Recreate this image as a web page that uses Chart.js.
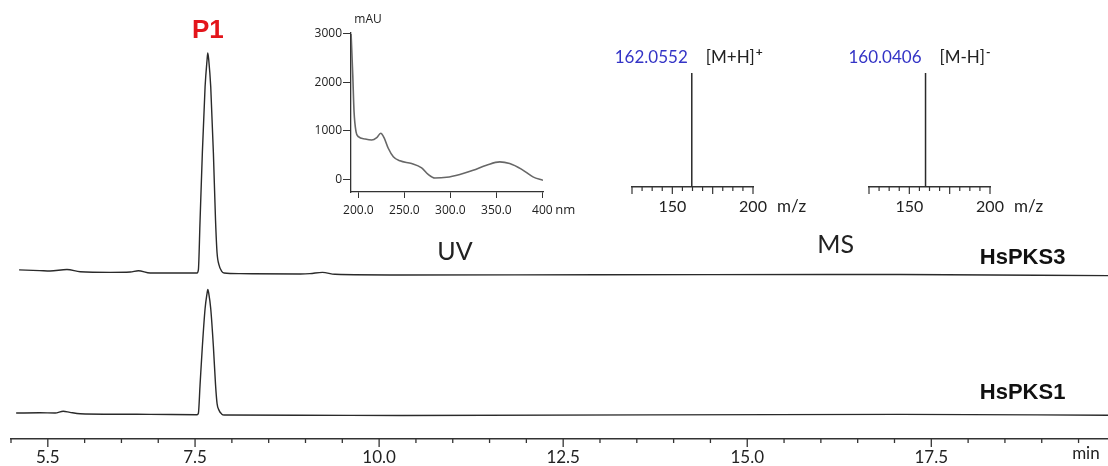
<!DOCTYPE html>
<html>
<head>
<meta charset="utf-8">
<script src="https://cdn.jsdelivr.net/npm/chart.js@4.4.1/dist/chart.umd.min.js"></script>
<style>
    html, body { margin: 0; padding: 0; background: #fff; }
    #wrap { position: relative; width: 1108px; height: 466px; overflow: hidden; }
    #wrap canvas { position: absolute; }
</style>
</head>
<body>
<div id="wrap">
    <canvas id="main" width="1108" height="466" style="left:0;top:0"></canvas>
    <canvas id="uv" width="300" height="225" style="left:290px;top:5px"></canvas>
    <canvas id="msPos" width="220" height="190" style="left:600px;top:40px"></canvas>
    <canvas id="msNeg" width="220" height="190" style="left:837px;top:40px"></canvas>
</div>
<script>
// chromatograms: retention time (min) vs absorbance (HsPKS3 peak = 100)
const pks3Time = [5.11, 5.39, 5.53, 5.76, 5.94, 6.35, 6.62, 6.73, 6.89, 7.527, 7.545, 7.568, 7.599, 7.636, 7.663, 7.673, 7.686, 7.713, 7.749, 7.778, 7.799, 7.826, 7.860, 7.894, 8.11, 8.93, 9.06, 9.23, 9.40, 10.29, 13.0, 17.08, 19.9];
const pks3Abs = [1.4, 1.1, 0.9, 1.6, 0.6, 0.3, 0.45, 1.05, 0, 0, 1.4, 24, 54.5, 84.5, 96.8, 100, 96.8, 84.5, 54.5, 24, 9.1, 3.6, 0.9, 0, -0.3, -0.45, -0.3, 0.3, -0.6, -0.9, -0.8, -0.7, -1.2];
const pks1Time = [5.07, 5.39, 5.60, 5.71, 5.80, 5.94, 6.89, 7.527, 7.545, 7.568, 7.599, 7.636, 7.663, 7.673, 7.686, 7.713, 7.749, 7.778, 7.799, 7.826, 7.860, 7.894, 8.93, 10.29, 17.08, 19.9];
const pks1Abs = [0.9, 1.0, 0.9, 1.7, 1.2, 0.6, 0.3, 0.1, 0.8, 13.8, 31.1, 48.3, 55.3, 57.1, 55.3, 48.3, 31.1, 13.8, 5.2, 2.1, 0.5, 0, -0.1, -0.2, 0.3, -0.1];
const traceNames = ['HsPKS3', 'HsPKS1'];
const timeTicks = [5.0, 5.5, 6.0, 6.5, 7.0, 7.5, 8.0, 8.5, 9.0, 9.5, 10.0, 10.5, 11.0, 11.5, 12.0, 12.5, 13.0, 13.5, 14.0, 14.5, 15.0, 15.5, 16.0, 16.5, 17.0, 17.5, 18.0, 18.5, 19.0, 19.5];
const timeLabels = [5.5, 7.5, 10.0, 12.5, 15.0, 17.5];

// UV spectrum of P1
const uvNm = [192.1, 193.9, 195.3, 197.5, 200, 207.3, 214.5, 220, 224.3, 227.9, 232.5, 238, 245.2, 257.9, 268.8, 275.9, 283.2, 295.9, 310.3, 324.7, 339.3, 353.7, 364.5, 377.2, 389.8, 400.7];
const uvMAU = [3000, 2160, 1400, 980, 880, 830, 810, 860, 950, 860, 640, 465, 380, 325, 235, 100, 25, 40, 100, 185, 290, 360, 325, 210, 50, -20];
const uvTicksX = [200, 250, 300, 350, 400];
const uvTicksY = [0, 1000, 2000, 3000];

// MS spectra
const msPosMz = [162.0552];
const msPosInt = [100];
const msNegMz = [160.0406];
const msNegInt = [100];
const msTicks = [125, 131.25, 137.5, 143.75, 150, 156.25, 162.5, 168.75, 175, 181.25, 187.5, 193.75, 200];
const msLabels = [150, 200];

const axisColor = '#333';
const textColor = '#222';
const lineColor = '#2a2a2a';
const numFont = 'Lato';

function pts(xs, ys) { return xs.map((x, i) => ({ x: x, y: ys[i] })); }

function noPad(s) { s.paddingLeft = 0; s.paddingRight = 0; s.paddingTop = 0; s.paddingBottom = 0; }

function text(ctx, str, x, y, font, color, align) {
    ctx.save();
    ctx.font = font;
    ctx.fillStyle = color;
    ctx.textAlign = align || 'center';
    ctx.textBaseline = 'middle';
    ctx.fillText(str, x, y);
    ctx.restore();
}

function tickMark(ctx, x, y, len) {
    ctx.beginPath();
    ctx.moveTo(x, y);
    ctx.lineTo(x, y + len);
    ctx.stroke();
}

const chromPlugin = {
    id: 'chromNotes',
    afterDraw(chart) {
        const ctx = chart.ctx;
        const xs = chart.scales.x, y3 = chart.scales.y3, y1 = chart.scales.y1;
        const base = xs.top;
        ctx.save();
        ctx.strokeStyle = axisColor;
        ctx.lineWidth = 1.3;
        timeTicks.forEach(v => tickMark(ctx, xs.getPixelForValue(v), base, timeLabels.includes(v) ? 8 : 4));
        ctx.restore();
        text(ctx, 'min', xs.getPixelForValue(19.6), base + 15, '17px ' + numFont, textColor);

        // peak label above the HsPKS3 maximum
        const iMax = pks3Abs.indexOf(Math.max(...pks3Abs));
        text(ctx, 'P1', xs.getPixelForValue(pks3Time[iMax]), y3.getPixelForValue(pks3Abs[iMax]) - 22,
            'bold 26px "Liberation Sans"', '#e3151b');

        text(ctx, traceNames[0], xs.getPixelForValue(18.74), y3.getPixelForValue(6.8), 'bold 22px "Liberation Sans"', '#111');
        text(ctx, traceNames[1], xs.getPixelForValue(18.74), y1.getPixelForValue(10), 'bold 22px "Liberation Sans"', '#111');
        text(ctx, 'UV', xs.getPixelForValue(11.03), y3.getPixelForValue(9.5), '25px ' + numFont, textColor);
        text(ctx, 'MS', xs.getPixelForValue(16.2), y3.getPixelForValue(12.7), '25px ' + numFont, textColor);
    }
};

new Chart(document.getElementById('main'), {
    type: 'line',
    data: {
        datasets: [
            { label: traceNames[0], data: pts(pks3Time, pks3Abs), yAxisID: 'y3', borderColor: lineColor, borderWidth: 1.4, pointRadius: 0, cubicInterpolationMode: 'monotone' },
            { label: traceNames[1], data: pts(pks1Time, pks1Abs), yAxisID: 'y1', borderColor: lineColor, borderWidth: 1.4, pointRadius: 0, cubicInterpolationMode: 'monotone' }
        ]
    },
    options: {
        responsive: false,
        animation: false,
        events: [],
        layout: { padding: { left: 11, right: 0, top: 40, bottom: 0 } },
        plugins: { legend: { display: false }, tooltip: { enabled: false } },
        scales: {
            x: {
                type: 'linear', min: 5, max: 19.9,
                afterBuildTicks: s => { s.ticks = timeTicks.map(v => ({ value: v })); },
                afterFit: s => { s.height = 27; noPad(s); },
                grid: { display: false, drawTicks: false },
                border: { display: true, color: axisColor, width: 1.5 },
                ticks: {
                    autoSkip: false, maxRotation: 0, padding: 8, color: textColor,
                    font: { family: numFont, size: 17 },
                    callback: v => timeLabels.includes(v) ? v.toFixed(1) : ''
                }
            },
            y3: { display: false, min: -75.45, max: 105.9 },
            y1: { display: false, min: -10.91, max: 170.45 }
        }
    },
    plugins: [chromPlugin]
});

// UV inset
const uvPlugin = {
    id: 'uvNotes',
    afterDraw(chart) {
        const ctx = chart.ctx, a = chart.chartArea, xs = chart.scales.x;
        text(ctx, 'mAU', a.left + 17, a.top - 13, '12px "Open Sans"', textColor);
        text(ctx, 'nm', xs.getPixelForValue(400) + 13, a.bottom + 18, '13px "Open Sans"', textColor, 'left');
    }
};

new Chart(document.getElementById('uv'), {
    type: 'line',
    data: { datasets: [{ data: pts(uvNm, uvMAU), borderColor: '#676767', borderWidth: 1.6, pointRadius: 0, cubicInterpolationMode: 'monotone' }] },
    options: {
        responsive: false,
        animation: false,
        events: [],
        layout: { padding: { left: 0, right: 47, top: 28, bottom: 0 } },
        plugins: { legend: { display: false }, tooltip: { enabled: false } },
        scales: {
            x: {
                type: 'linear', min: 192, max: 400.7,
                afterBuildTicks: s => { s.ticks = uvTicksX.map(v => ({ value: v })); },
                afterFit: s => { s.height = 38; noPad(s); },
                grid: { drawOnChartArea: false, tickLength: 6, color: axisColor },
                border: { color: axisColor, width: 1.3 },
                ticks: {
                    autoSkip: false, maxRotation: 0, padding: 5, color: textColor,
                    font: { family: 'Open Sans', size: 12 },
                    callback: v => v === 400 ? '400' : v.toFixed(1)
                }
            },
            y: {
                min: -263, max: 3020,
                afterBuildTicks: s => { s.ticks = uvTicksY.map(v => ({ value: v })); },
                afterFit: s => { s.width = 61; noPad(s); },
                grid: { drawOnChartArea: false, tickLength: 8, color: axisColor },
                border: { color: axisColor, width: 1.3 },
                ticks: { padding: 1, color: textColor, font: { family: 'Open Sans', size: 12 }, callback: v => String(v) }
            }
        }
    },
    plugins: [uvPlugin]
});

// MS insets
function drawMs(id, mz, inten, ion, charge) {
    const msPlugin = {
        id: 'msNotes',
        afterDraw(chart) {
            const ctx = chart.ctx, xs = chart.scales.x, ys = chart.scales.y;
            const base = xs.top;
            ctx.save();
            ctx.strokeStyle = axisColor;
            ctx.lineWidth = 1.2;
            msTicks.forEach(v => tickMark(ctx, xs.getPixelForValue(v), base, v % 25 === 0 ? 7 : 4));
            ctx.restore();
            mz.forEach((m, i) => {
                const px = xs.getPixelForValue(m), top = ys.getPixelForValue(inten[i]) - 15;
                text(ctx, m.toFixed(4), px - 4, top, '17px ' + numFont, '#3434c6', 'right');
                ctx.save();
                ctx.font = '17px ' + numFont;
                const w = ctx.measureText(ion).width;
                ctx.restore();
                text(ctx, ion, px + 14, top, '17px ' + numFont, textColor, 'left');
                text(ctx, charge, px + 15 + w, top - 6, 'bold 12px ' + numFont, textColor, 'left');
            });
            text(ctx, 'm/z', xs.getPixelForValue(200) + 24, base + 20, '17px ' + numFont, textColor, 'left');
        }
    };
    new Chart(document.getElementById(id), {
        type: 'line',
        data: { datasets: [{ data: mz.flatMap((m, i) => [{ x: m, y: 0 }, { x: m, y: inten[i] }, { x: m, y: null }]), borderColor: lineColor, borderWidth: 1.5, pointRadius: 0, spanGaps: false }] },
        options: {
            responsive: false,
            animation: false,
            events: [],
            layout: { padding: { left: 32, right: 67, top: 33, bottom: 0 } },
            plugins: { legend: { display: false }, tooltip: { enabled: false } },
            scales: {
                x: {
                    type: 'linear', min: 125, max: 200,
                    afterBuildTicks: s => { s.ticks = msTicks.map(v => ({ value: v })); },
                    afterFit: s => { s.height = 43; noPad(s); },
                    grid: { display: false, drawTicks: false },
                    border: { display: true, color: axisColor, width: 1.4 },
                    ticks: {
                        autoSkip: false, maxRotation: 0, padding: 10, color: textColor,
                        font: { family: numFont, size: 16 },
                        callback: v => msLabels.includes(v) ? String(v) : ''
                    }
                },
                y: { display: false, min: 0, max: 100 }
            }
        },
        plugins: [msPlugin]
    });
}

drawMs('msPos', msPosMz, msPosInt, '[M+H]', '+');
drawMs('msNeg', msNegMz, msNegInt, '[M-H]', '-');
</script>
</body>
</html>
